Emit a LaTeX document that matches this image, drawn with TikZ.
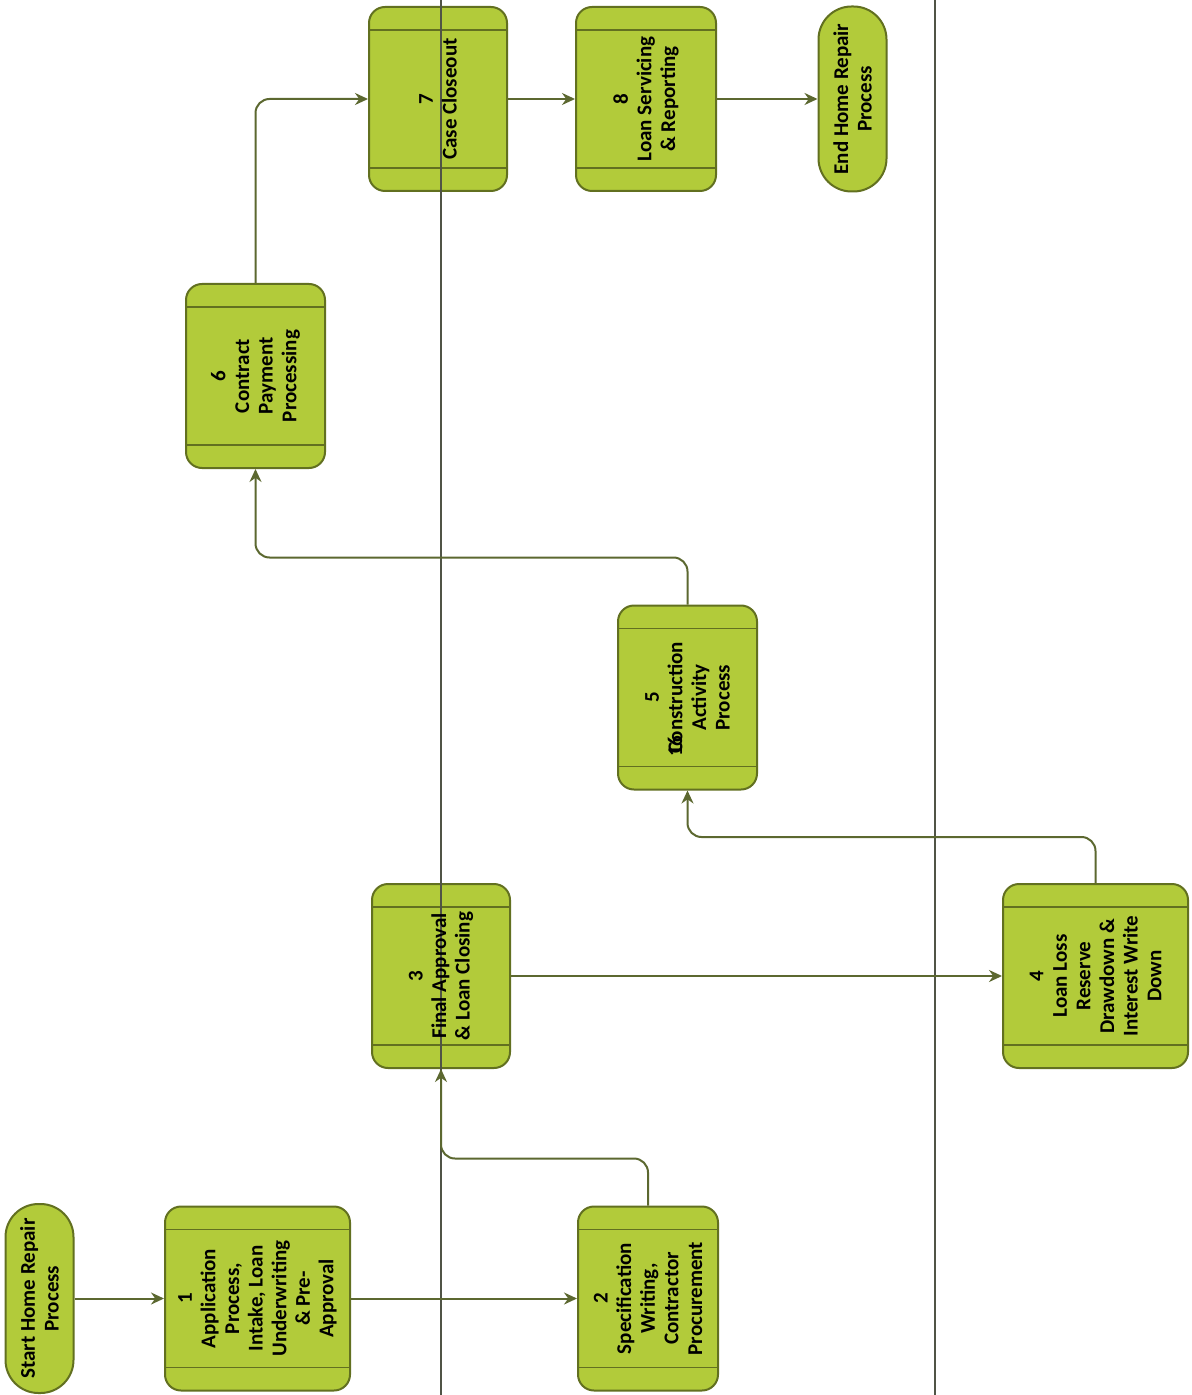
\documentclass[tikz,border=0pt]{standalone}
\usepackage{fontspec}
\setmainfont{Carlito}
\usetikzlibrary{arrows.meta}
\definecolor{boxfill}{RGB}{178,203,58}
\definecolor{boxedge}{RGB}{98,112,32}
\definecolor{connc}{RGB}{92,104,48}
\definecolor{sepc}{RGB}{80,84,70}
\tikzset{
  proc/.style={draw=boxedge, line width=1pt, fill=boxfill, rounded corners=8pt,
    inner sep=0pt, minimum width=#1, minimum height=92pt,
    path picture={
      \draw[boxedge, line width=0.9pt]
        ([yshift=-11.5pt]path picture bounding box.north west) -- ([yshift=-11.5pt]path picture bounding box.north east)
        ([yshift=11.5pt]path picture bounding box.south west) -- ([yshift=11.5pt]path picture bounding box.south east);
    }},
  term/.style={draw=boxedge, line width=1pt, fill=boxfill, rounded corners=16.5pt,
    inner sep=0pt, minimum width=34pt, minimum height=#1},
  txt/.style={rotate=90, align=center, inner sep=0pt, text=black,
    font=\fontsize{10.5}{11.8}\selectfont\bfseries},
  conn/.style={draw=connc, line width=1pt, rounded corners=7pt, -{Stealth[length=6.5pt,width=6pt]}},
  sepline/.style={draw=sepc, line width=0.9pt}
}
\begin{document}
\begin{tikzpicture}[x=0.5pt,y=-0.5pt]
\useasboundingbox (0,0) rectangle (1191,1395);
\fill[white] (0,0) rectangle (1191,1395);
% terminals
\node[term=94.5pt] (start) at (39.5,1298.5) {};
\node[term=92.5pt] (end) at (852.5,99) {};
% process boxes
\node[proc=92.5pt] (b1) at (257.5,1298.5) {};
\node[proc=70pt] (b2) at (648,1298.5) {};
\node[proc=69pt] (b3) at (441,976) {};
\node[proc=92.5pt] (b4) at (1095.5,976) {};
\node[proc=69.5pt] (b5) at (687.5,697.5) {};
\node[proc=69.5pt] (b6) at (255.5,376) {};
\node[proc=69pt] (b7) at (438,99) {};
\node[proc=70pt] (b8) at (646,99) {};
% separator lines
\coordinate (s1t) at (441,0);
\coordinate (s1b) at (441,1395);
\coordinate (s2t) at (935,0);
\coordinate (s2b) at (935,1395);
\draw[sepline] (s1t) -- (s1b);
\draw[sepline] (s2t) -- (s2b);
% connectors
\draw[conn] (start.east) -- (b1.west);
\draw[conn] (b1.east) -- (b2.west);
\draw[conn] (b2.north) -- ++(0,-47) -| (b3.south);
\draw[conn] (b3.east) -- (b4.west);
\draw[conn] (b4.north) -- ++(0,-46) -| (b5.south);
\draw[conn] (b5.north) -- ++(0,-47) -| (b6.south);
\draw[conn] (b6.north) |- (b7.west);
\draw[conn] (b7.east) -- (b8.west);
\draw[conn] (b8.east) -- (end.west);
% texts
\node[txt] (tstart) at (start) {Start Home Repair\\Process};
\node[txt] (tend) at (end) {End Home Repair\\Process};
\node[txt] (t1) at (b1) {1\\Application\\Process,\\Intake, Loan\\Underwriting\\\& Pre-\\Approval};
\node[txt] (t2) at (b2) {2\\Specification\\Writing,\\Contractor\\Procurement};
\node[txt] (t3) at (b3) {3\\Final Approval\\\& Loan Closing};
\node[txt] (t4) at (b4) {4\\Loan Loss\\Reserve\\Drawdown \&\\Interest Write\\Down};
\node[txt] (t5) at (b5) {5\\Construction\\Activity\\Process};
\node[txt] (t16) at (675,746) {16};
\node[txt] (t6) at (b6) {6\\Contract\\Payment\\Processing};
\node[txt] (t7) at (b7) {7\\Case Closeout};
\node[txt] (t8) at (b8) {8\\Loan Servicing\\\& Reporting};
\end{tikzpicture}
\end{document}
